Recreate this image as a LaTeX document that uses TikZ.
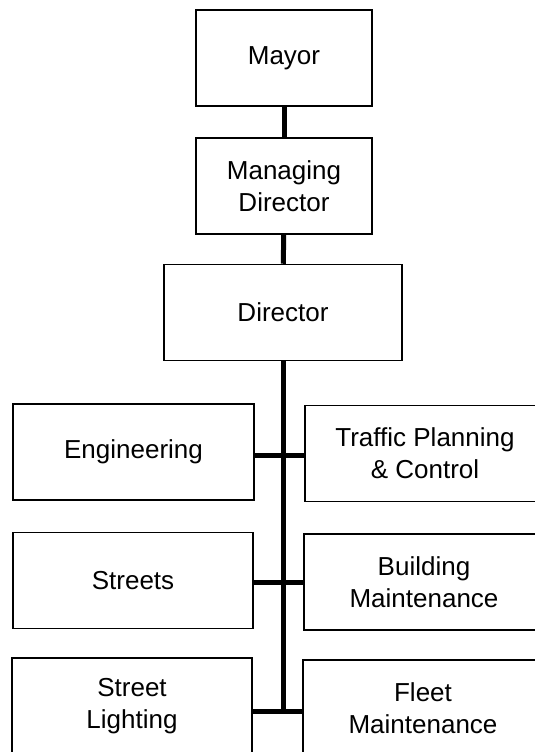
\documentclass[tikz,border=0pt]{standalone}
\usepackage{fontspec}
\setmainfont{Liberation Sans}
\begin{document}
\begin{tikzpicture}[x=1pt,y=-1pt]
\tikzstyle{every node}+=[inner sep=0pt]
\tikzstyle{post}=[draw=black, line width=1.5pt, align=center, font=\fontsize{26}{32}\selectfont, minimum height=96pt]
\tikzstyle{link}=[black, line width=5pt]
\useasboundingbox (0,0) rectangle (535,752);
\clip (0,0) rectangle (535,752);
% top of the chart
\node [post, minimum width=176pt] (mayor) at (284,58) {Mayor};
\node [post, minimum width=176pt] (mdir) at (284,186) {Managing\\Director};
\node [post, minimum width=238pt] (dir) at (283,312.5) {Director};
% departments
\node [post, minimum width=241pt] (eng) at (133.5,452) {Engineering};
\node [post, minimum width=240pt] (traffic) at (425,453.5) {Traffic Planning\\\& Control};
\node [post, minimum width=240pt] (streets) at (133,580.5) {Streets};
\node [post, minimum width=240pt] (building) at (424,582) {Building\\Maintenance};
\node [post, minimum width=240pt] (lighting) at (132,706) {Street\\Lighting};
\node [post, minimum width=240pt] (fleet) at (423,708) {Fleet\\Maintenance};
% connectors
\draw [link] (mayor) -- (mdir);
\draw [link] (mdir) -- (dir);
\path (dir.south |- lighting.east) ++(0,5) coordinate (spineend);
\draw [link] (dir.south) -- (spineend);
\draw [link] ([yshift=-3pt]eng.east) -- ([yshift=-3pt]eng.east -| traffic.west);
\draw [link] ([yshift=-2pt]streets.east) -- ([yshift=-2pt]streets.east -| building.west);
\draw [link] ([yshift=-5pt]lighting.east) -- ([yshift=-5pt]lighting.east -| fleet.west);
\end{tikzpicture}
\end{document}
